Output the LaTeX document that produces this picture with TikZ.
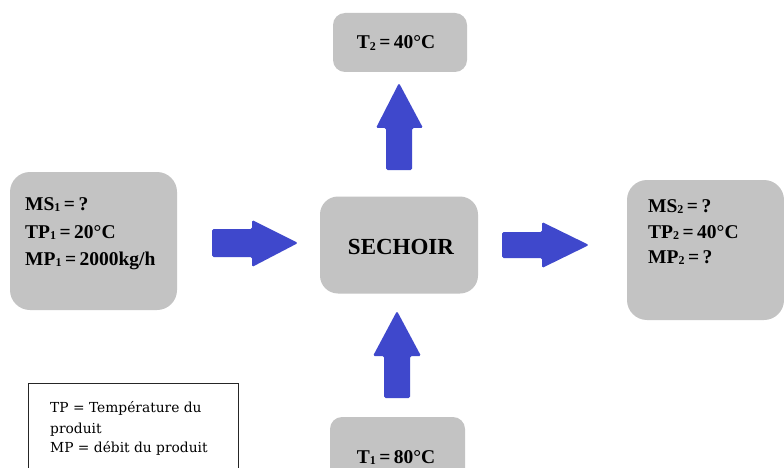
\documentclass[tikz,border=0pt]{standalone}
\usepackage{fontspec}
\setmainfont{Liberation Serif}
\newfontfamily\legendfont{DejaVu Serif}
\definecolor{boxgray}{HTML}{C3C3C3}
\definecolor{arrowblue}{HTML}{3F48CC}
\newcommand\sbs[1]{\raisebox{-0.06em}{\fontsize{12}{12}\selectfont #1}}
\newcommand\eqs{\kern3.5pt=\kern3.5pt}
\begin{document}
\begin{tikzpicture}[x=1pt,y=-1pt,
  graybox/.style={fill=boxgray, draw=none, inner sep=0pt},
  boldlbl/.style={inner sep=0pt, anchor=base west, font=\bfseries\fontsize{19.5}{22}\selectfont},
  ctrlbl/.style={inner sep=0pt, anchor=base, font=\bfseries\fontsize{19.5}{22}\selectfont},
  leglbl/.style={inner sep=0pt, anchor=base west, font=\legendfont\fontsize{13.8}{17}\selectfont},
  blockarrow/.style={fill=arrowblue, draw=none, rounded corners=1.5pt}
]
\useasboundingbox (0,0) rectangle (784,468);
\clip (0,0) rectangle (784,468);
\fill[white] (0,0) rectangle (784,468);

% boxes
\node[graybox, rounded corners=20pt, minimum width=167pt, minimum height=138pt] (inbox) at (93.5,241) {};
\node[graybox, rounded corners=20pt, minimum width=157pt, minimum height=140pt] (outbox) at (705.5,250) {};
\node[graybox, rounded corners=18pt, minimum width=158pt, minimum height=97pt] (sech) at (399,245) {};
\node[graybox, rounded corners=12pt, minimum width=134pt, minimum height=59pt] (ttop) at (400,42.5) {};
\node[graybox, rounded corners=12pt, minimum width=135pt, minimum height=70pt] (tbot) at (397.5,452) {};
\node[draw=black!85, line width=0.8pt, fill=white, minimum width=210pt, minimum height=100pt, anchor=north west, inner sep=0pt] (legend) at (28,383) {};

% texts
\node[boldlbl] (in1) at (25,210) {MS\sbs{1}\eqs ?};
\node[boldlbl] (in2) at (25,238) {TP\sbs{1}\eqs 20°C};
\node[boldlbl] (in3) at (25,265) {MP\sbs{1}\eqs 2000kg/h};
\node[boldlbl] (out1) at (648,212) {MS\sbs{2}\eqs ?};
\node[boldlbl] (out2) at (648,238) {TP\sbs{2}\eqs 40°C};
\node[boldlbl] (out3) at (648,263) {MP\sbs{2}\eqs ?};
\node[ctrlbl, font=\bfseries\fontsize{23}{26}\selectfont] (sechtxt) at (401,254) {SECHOIR};
\node[ctrlbl] (ttoptxt) at (396,49) {T\sbs{2}\eqs 40°C};
\node[ctrlbl] (tbottxt) at (396,463) {T\sbs{1}\eqs 80°C};
\node[leglbl] (leg1) at (50,412) {TP = Température du};
\node[leglbl] (leg2) at (50,433) {produit};
\node[leglbl] (leg3) at (50,452) {MP = débit du produit};

% block arrows
\fill[blockarrow] (212,229) -- (252,229) -- (252,220) -- (298,243) -- (252,267) -- (252,257) -- (212,257) -- cycle;
\fill[blockarrow] (502,232) -- (542,232) -- (542,222) -- (589,245) -- (542,268) -- (542,258) -- (502,258) -- cycle;
\fill[blockarrow] (386,170) -- (386,128) -- (376,128) -- (399,83) -- (423,128) -- (412,128) -- (412,170) -- cycle;
\fill[blockarrow] (384,398) -- (384,356) -- (373,356) -- (397,311) -- (421,356) -- (410,356) -- (410,398) -- cycle;
\end{tikzpicture}
\end{document}
